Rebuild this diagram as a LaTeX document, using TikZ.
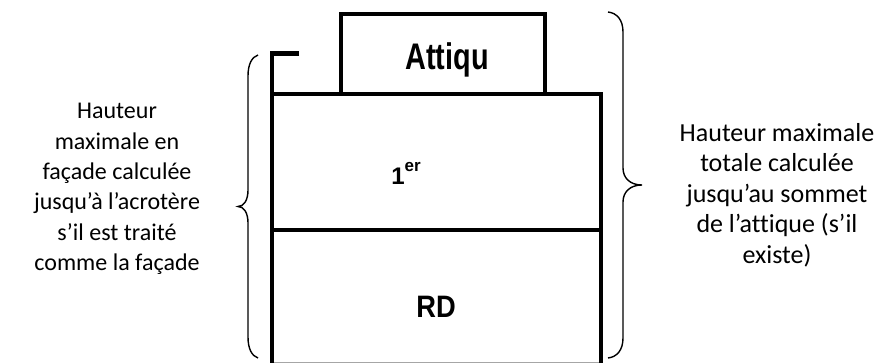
\documentclass[tikz,border=0pt]{standalone}
\usepackage{fontspec}
\setmainfont{Carlito}[Ligatures=NoCommon]
\newfontfamily\labfont{Liberation Sans}
\tikzset{
  wall/.style={line width=4.6pt, line join=miter, line cap=rect},
  bracepath/.style={line width=1.4pt},
  sidetext/.style={align=center, inner sep=0pt},
  lab/.style={inner sep=0pt, anchor=base}
}
\begin{document}
\begin{tikzpicture}[x=1pt,y=-1pt]
\useasboundingbox (0,0) rectangle (894,363);
% building
\draw[wall, line cap=butt] (299,53.5) -- (272,53.5) -- (272,366);
\draw[wall, line cap=butt] (272,94) -- (601,94) -- (601,366);
\draw[wall] (272,230) -- (601,230);
\draw[wall] (341,94) -- (341,14) -- (545,14) -- (545,94);
\draw[gray!70, line width=1pt] (274,362) -- (599,362);
% left brace
\draw[bracepath] (258,55) .. controls (252,57) and (248,64) .. (248,76) -- (248,190)
  .. controls (248,200) and (244,206.5) .. (238,206.5)
  .. controls (244,206.5) and (248,213) .. (248,223) -- (248,337)
  .. controls (248,349) and (252,356) .. (258,358);
% right brace
\draw[bracepath] (608,12) .. controls (617,13) and (623,20) .. (623,32) -- (623,168)
  .. controls (623,178) and (630,185) .. (642,185)
  .. controls (630,185) and (623,192) .. (623,202) -- (623,338)
  .. controls (623,350) and (617,357) .. (608,358);
% labels
\node[lab] (attic) at (447,70) {\scalebox{0.78}[1]{\labfont\bfseries\fontsize{37}{37}\selectfont Attiqu}};
\node[lab] (first) at (406,185) {\labfont\bfseries\fontsize{24}{24}\selectfont 1\raisebox{13pt}{\fontsize{17}{17}\selectfont er}};
\node[lab] (rd) at (436,317) {\scalebox{0.88}[1]{\labfont\bfseries\fontsize{31}{31}\selectfont RD}};
% side texts
\node[sidetext, font=\fontsize{24}{30.4}\selectfont] (left) at (117,189) {Hauteur\\maximale en\\façade calculée\\jusqu’à l’acrotère\\s’il est traité\\comme la façade};
\node[sidetext, font=\fontsize{26}{30.4}\selectfont] (right) at (777,195) {Hauteur maximale\\totale calculée\\jusqu’au sommet\\de l’attique (s’il\\existe)};
\end{tikzpicture}
\end{document}
